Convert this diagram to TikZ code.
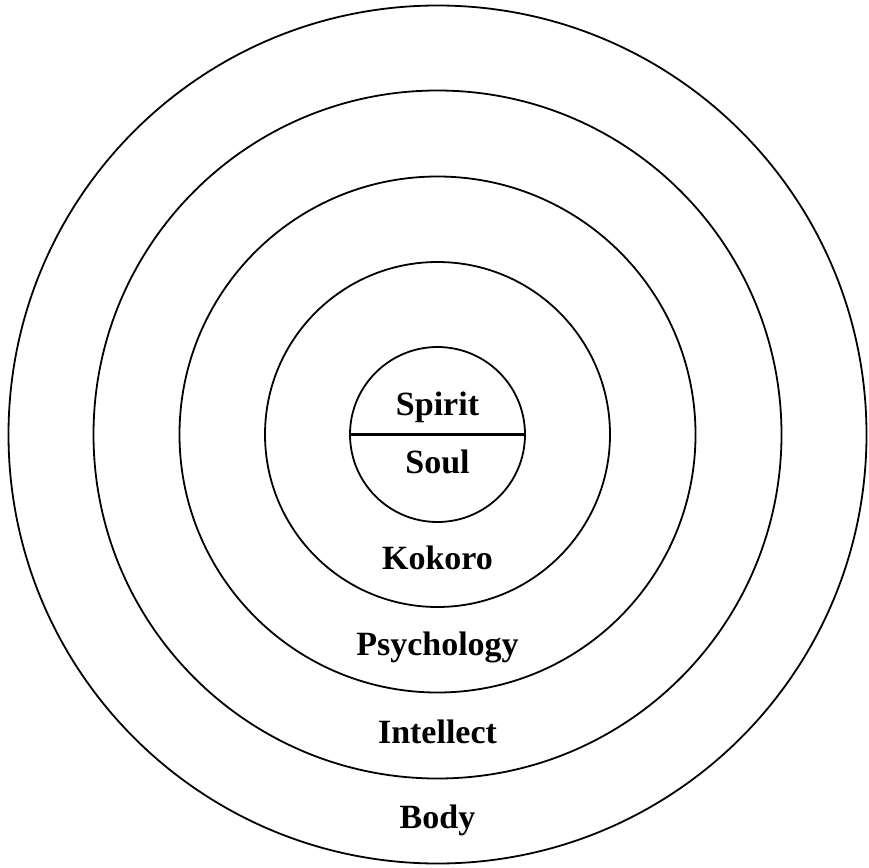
\documentclass[tikz,border=0pt]{standalone}
\usepackage{fontspec}
\setmainfont{Liberation Serif}
\begin{document}
\begin{tikzpicture}[x=1pt,y=-1pt,
  ring/.style={draw=black,line width=1.8pt,circle,inner sep=0pt,fill=none},
  lbl/.style={anchor=base,inner sep=0pt,font=\fontsize{34}{40}\selectfont\bfseries}]
\useasboundingbox[fill=white] (0,0) rectangle (869,867);
\coordinate (ctr) at (437.5,434.5);
\node[ring,minimum size=858pt] (body) at (ctr) {};
\node[ring,minimum size=688pt] (intellect) at (ctr) {};
\node[ring,minimum size=516pt] (psych) at (ctr) {};
\node[ring,minimum size=345pt] (kokoro) at (ctr) {};
\node[ring,minimum size=175pt] (core) at (ctr) {};
\draw[line width=3pt] (core.west) -- (core.east);
\node[lbl] (spirit) at (437.5,415) {Spirit};
\node[lbl] (soul) at (437.5,473) {Soul};
\node[lbl] (tk) at (437.5,569) {Kokoro};
\node[lbl] (tp) at (437.5,655) {Psychology};
\node[lbl] (ti) at (437.5,743) {Intellect};
\node[lbl] (tb) at (437.5,828) {Body};
\end{tikzpicture}
\end{document}
